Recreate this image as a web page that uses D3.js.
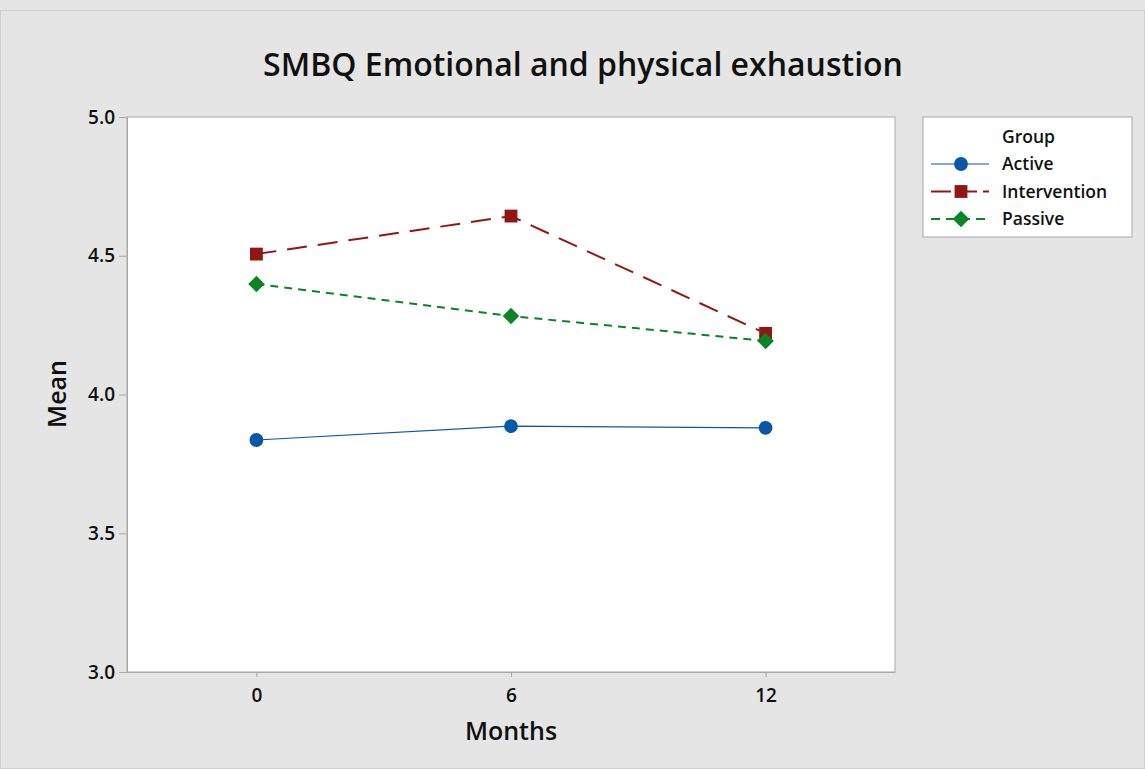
<!DOCTYPE html>
<html>
<head>
<meta charset="utf-8">
<script src="https://cdn.jsdelivr.net/npm/d3@7"></script>
<style>
  body { margin: 0; background: #e5e5e5; }
  svg { display: block; font-family: "Open Sans", "Noto Sans", sans-serif; }
</style>
</head>
<body>
<div id="chart"></div>
<script>
var width = 1145, height = 769;

// data
var months = [0, 6, 12];
var groups = ["Active", "Intervention", "Passive"];
var active = [3.836, 3.886, 3.880];
var intervention = [4.506, 4.643, 4.220];
var passive = [4.398, 4.283, 4.193];
var yTicks = [3.0, 3.5, 4.0, 4.5, 5.0];

var seriesValues = [active, intervention, passive];
var styles = [
  {color: "#0a56a8", dash: null, width: 1.2, shape: d3.symbolCircle, size: 150, rot: 0},
  {color: "#921616", dash: "20,11", width: 2, shape: d3.symbolSquare, size: 165, rot: 0},
  {color: "#0a8424", dash: "8,6", width: 2, shape: d3.symbolSquare, size: 135, rot: 45}
];

var svg = d3.select("#chart").append("svg")
            .attr("width", width)
            .attr("height", height);

svg.append("rect")
   .attr("x", 0.5).attr("y", 10.5)
   .attr("width", width - 1).attr("height", height - 11)
   .style("fill", "#e5e5e5")
   .style("stroke", "#d0d0d0");

var margin = {top: 117, left: 127, right: 895, bottom: 672};

var xScale = d3.scaleLinear().domain([-3.05, 15.05]).range([margin.left, margin.right]);
var yScale = d3.scaleLinear().domain([3, 5]).range([margin.bottom, margin.top]);

// plot area
svg.append("rect")
   .attr("x", margin.left).attr("y", margin.top)
   .attr("width", margin.right - margin.left)
   .attr("height", margin.bottom - margin.top)
   .style("fill", "white")
   .style("stroke", "#a8a8a8");

// axes
var yAxis = d3.axisLeft(yScale)
              .tickValues(yTicks)
              .tickSize(8)
              .tickSizeOuter(0)
              .tickPadding(4)
              .tickFormat(d3.format(".1f"));
var gy = svg.append("g")
            .attr("transform", "translate(" + margin.left + ",0)")
            .call(yAxis);

var xAxis = d3.axisBottom(xScale)
              .tickValues(months)
              .tickSize(5)
              .tickSizeOuter(0)
              .tickPadding(12);
var gx = svg.append("g")
            .attr("transform", "translate(0," + margin.bottom + ")")
            .call(xAxis);

[gx, gy].forEach(function(g) {
  g.attr("font-family", null).attr("font-size", null);
  g.select(".domain").style("stroke", "#a8a8a8");
  g.selectAll(".tick line").style("stroke", "#a8a8a8");
  g.selectAll(".tick text")
   .style("font-size", "19px")
   .style("font-weight", 600)
   .style("fill", "#111");
});

// lines and markers
var line = d3.line()
             .x(function(d, i) { return xScale(months[i]); })
             .y(function(d) { return yScale(d); });

seriesValues.forEach(function(vals, k) {
  var s = styles[k];
  svg.append("path")
     .datum(vals)
     .attr("d", line)
     .style("fill", "none")
     .style("stroke", s.color)
     .style("stroke-width", s.width)
     .style("stroke-dasharray", s.dash);

  svg.selectAll(".pt" + k)
     .data(vals)
     .enter()
     .append("path")
     .attr("class", "pt" + k)
     .attr("d", d3.symbol().type(s.shape).size(s.size))
     .attr("transform", function(d, i) {
       return "translate(" + xScale(months[i]) + "," + yScale(d) + ") rotate(" + s.rot + ")";
     })
     .style("fill", s.color);
});

// title and axis labels
svg.append("text")
   .attr("x", 583).attr("y", 76)
   .attr("text-anchor", "middle")
   .style("font-size", "32px")
   .style("font-weight", 600)
   .style("fill", "#111")
   .text("SMBQ Emotional and physical exhaustion");

svg.append("text")
   .attr("x", 511).attr("y", 740)
   .attr("text-anchor", "middle")
   .style("font-size", "25px")
   .style("font-weight", 600)
   .style("fill", "#111")
   .text("Months");

svg.append("text")
   .attr("transform", "translate(66,394) rotate(-90)")
   .attr("text-anchor", "middle")
   .style("font-size", "25px")
   .style("font-weight", 600)
   .style("fill", "#111")
   .text("Mean");

// legend
var lg = svg.append("g").attr("transform", "translate(923,117)");
lg.append("rect")
  .attr("width", 209).attr("height", 120)
  .style("fill", "white")
  .style("stroke", "#a8a8a8");
lg.append("text")
  .attr("x", 79).attr("y", 26)
  .style("font-size", "17.5px")
  .style("font-weight", 600)
  .style("fill", "#111")
  .text("Group");

groups.forEach(function(g, k) {
  var s = styles[k], yy = 47 + k * 27.5;
  lg.append("line")
    .attr("x1", 8).attr("x2", 66)
    .attr("y1", yy).attr("y2", yy)
    .style("stroke", s.color)
    .style("stroke-width", s.width)
    .style("stroke-dasharray", k === 0 ? null : (k === 1 ? "20,6" : "9,6"));
  lg.append("path")
    .attr("d", d3.symbol().type(s.shape).size(s.size))
    .attr("transform", "translate(38," + yy + ") rotate(" + s.rot + ")")
    .style("fill", s.color);
  lg.append("text")
    .attr("x", 79).attr("y", yy + 6)
    .style("font-size", "17.5px")
    .style("font-weight", 600)
    .style("fill", "#111")
    .text(g);
});
</script>
</body>
</html>
